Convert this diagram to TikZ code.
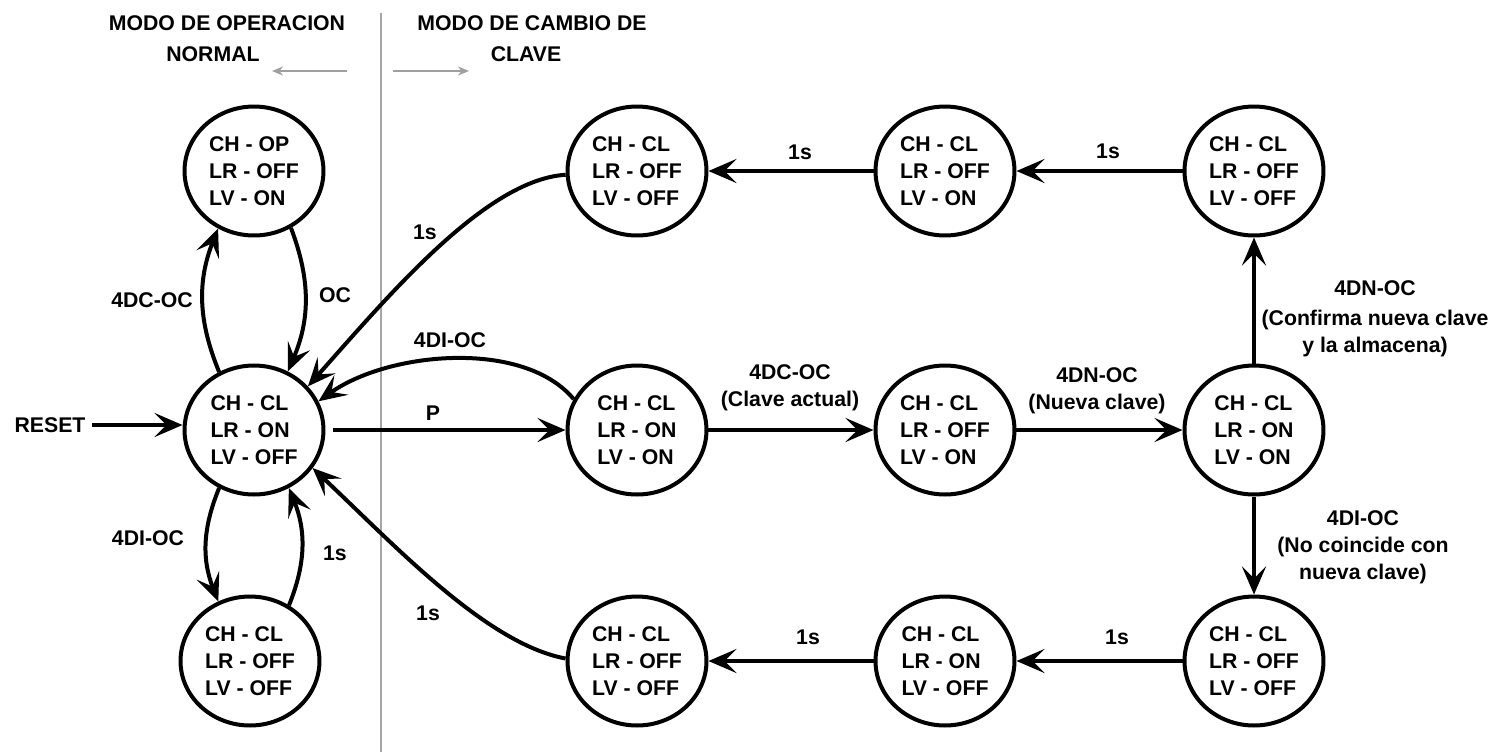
\documentclass[tikz,border=0pt]{standalone}
\usepackage{fontspec}
\setmainfont{Liberation Sans}
\usetikzlibrary{arrows.meta,shapes.geometric}
\newcommand\myfs{\fontsize{12.1}{15.3}\selectfont\bfseries}
\begin{document}
\begin{tikzpicture}[x=0.02cm,y=0.02cm,
 state/.style={ellipse, draw, line width=0.08cm, minimum width=2.78cm, minimum height=2.58cm, inner sep=0pt, align=left, font=\myfs},
 lbl/.style={font=\myfs, align=center, inner sep=0pt},
 arr/.style={line width=0.08cm, -{Stealth[length=0.56cm,width=0.48cm,inset=0.24cm]}},
 garr/.style={draw=gray!75, line width=0.035cm, -{Stealth[length=0.22cm,width=0.18cm,inset=0.07cm]}}]
\useasboundingbox (0,0) rectangle (1512,-752);
% divider and headers
\coordinate (dtop) at (381,-13);
\coordinate (dbot) at (381,-752);
\draw[gray!70, line width=0.04cm] (dtop) -- (dbot);
\node[lbl] (h1a) at (227,-23) {MODO DE OPERACION};
\node[lbl] (h1b) at (213,-54) {NORMAL};
\node[lbl] (h2a) at (532,-23) {MODO DE CAMBIO DE};
\node[lbl] (h2b) at (526,-54) {CLAVE};
\coordinate (ga1) at (347,-71); \coordinate (ga2) at (272,-71);
\coordinate (gb1) at (393,-71); \coordinate (gb2) at (469,-71);
\draw[garr] (ga1) -- (ga2);
\draw[garr] (gb1) -- (gb2);
% states
\node[state] (tl) at (254,-171) {CH - OP\\LR - OFF\\LV - ON};
\node[state] (main) at (254,-430) {CH - CL\\LR - ON\\LV - OFF};
\node[state] (bl) at (250,-661) {CH - CL\\LR - OFF\\LV - OFF};
\node[state] (t1) at (637,-171) {CH - CL\\LR - OFF\\LV - OFF};
\node[state] (t2) at (945,-171) {CH - CL\\LR - OFF\\LV - ON};
\node[state] (t3) at (1254,-171) {CH - CL\\LR - OFF\\LV - OFF};
\node[state] (m1) at (637,-430) {CH - CL\\LR - ON\\LV - ON};
\node[state] (m2) at (945,-430) {CH - CL\\LR - OFF\\LV - ON};
\node[state] (m3) at (1254,-430) {CH - CL\\LR - ON\\LV - ON};
\node[state] (b1) at (637,-661) {CH - CL\\LR - OFF\\LV - OFF};
\node[state] (b2) at (945,-661) {CH - CL\\LR - ON\\LV - OFF};
\node[state] (b3) at (1254,-661) {CH - CL\\LR - OFF\\LV - OFF};
% reset
\node[lbl] (reset) at (50,-425) {RESET};
\draw[arr] (reset.east) ++(6,0) coordinate (rs) (rs) -- (rs -| main.west);
% left loops
\draw[arr] (main.121) to[bend left=22] (tl.238);
\draw[arr] (tl.303) to[bend left=22] (main.60);
\draw[arr] (main.239) to[bend right=22] (bl.118);
\draw[arr] (bl.55) to[bend right=22] (main.301);
\node[lbl] (l1) at (152,-300) {4DC-OC};
\node[lbl] (l2) at (335,-295) {OC};
\node[lbl] (l3) at (148,-538) {4DI-OC};
\node[lbl] (l4) at (335,-553) {1s};
% main row
\draw[arr, shorten <=4pt] (main) -- (m1);
\node[lbl] (lp) at (433,-413) {P};
\draw[arr] (m1.154) .. controls +(-50,60) and +(70,50) .. (main.24);
\node[lbl] (l5) at (450,-340) {4DI-OC};
\draw[arr] (t1.183) .. controls +(-80,-5) and +(80,90) .. (main.39);
\node[lbl] (l6) at (425,-232) {1s};
\draw[arr] (b1.178) .. controls +(-80,15) and +(80,-75) .. (main.327);
\node[lbl] (l7) at (428,-613) {1s};
\draw[arr] (m1) -- (m2);
\node[lbl] (l8) at (790,-388) {4DC-OC\\(Clave actual)};
\draw[arr] (m2) -- (m3);
\node[lbl] (l9) at (1097,-391) {4DN-OC\\(Nueva clave)};
\draw[arr] (m3) -- (t3);
\node[lbl] (l10) at (1375,-319) {4DN-OC\\[2pt](Confirma nueva clave\\y la almacena)};
\draw[arr] (m3) -- (b3);
\node[lbl] (l11) at (1363,-547) {4DI-OC\\(No coincide con\\nueva clave)};
% top and bottom rows
\draw[arr] (t3) -- (t2);
\node[lbl] (l12) at (1108,-151) {1s};
\draw[arr] (t2) -- (t1);
\node[lbl] (l13) at (800,-152) {1s};
\draw[arr] (b3) -- (b2);
\node[lbl] (l14) at (1117,-637) {1s};
\draw[arr] (b2) -- (b1);
\node[lbl] (l15) at (808,-637) {1s};
\end{tikzpicture}
\end{document}
